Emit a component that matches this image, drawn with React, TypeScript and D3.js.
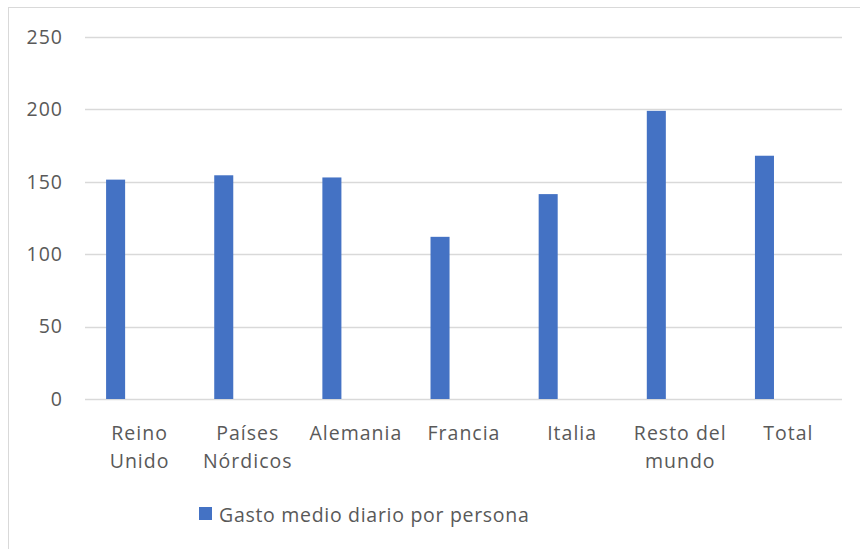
import React from "react";
import * as d3 from "d3";

const categories: string[][] = [
  ["Reino", "Unido"],
  ["Países", "Nórdicos"],
  ["Alemania"],
  ["Francia"],
  ["Italia"],
  ["Resto del", "mundo"],
  ["Total"],
];
const values: number[] = [151.5, 154.5, 153, 112, 141.5, 199, 168];
const yTicks: number[] = [0, 50, 100, 150, 200, 250];
const seriesName = "Gasto medio diario por persona";

const W = 860;
const H = 549;
const FONT = "'Open Sans', 'Liberation Sans', sans-serif";
const TEXT = "#595959";
const BAR = "#4472C4";
const GRID = "#d9d9d9";
const LS = 1;

export default function App() {
  const keys = categories.map((c) => c.join(" "));
  const x = d3.scaleBand<string>().domain(keys).range([85, 842]).padding(0);
  const y = d3.scaleLinear().domain([0, 250]).range([399, 37]);
  const bw = x.bandwidth();

  return (
    <svg
      width={W}
      height={H}
      style={{ position: "absolute", left: 0, top: 0 }}
      fontFamily={FONT}
    >
      <rect x={0} y={0} width={W} height={H} fill="#fff" />
      <rect x={8.5} y={7.5} width={W + 20} height={H + 20} fill="none" stroke={GRID} strokeWidth={1} />
      {yTicks.map((t) => (
        <g key={t}>
          <line x1={85} x2={842} y1={Math.round(y(t)) + 0.5} y2={Math.round(y(t)) + 0.5} stroke={GRID} strokeWidth={1.4} />
          <text x={63} y={y(t)} dy="0.35em" textAnchor="end" fontSize={19.5} fill={TEXT} letterSpacing={LS}>
            {t}
          </text>
        </g>
      ))}
      {values.map((v, i) => {
        const k = keys[i];
        const x0 = (x(k) as number) + bw * 0.195;
        return (
          <rect key={k} x={x0} y={y(v)} width={bw * 0.176} height={y(0) - y(v)} fill={BAR} />
        );
      })}
      {categories.map((lines, i) => {
        const cx = (x(keys[i]) as number) + bw / 2 + LS / 2;
        return (
          <text key={keys[i]} textAnchor="middle" fontSize={19.5} fill={TEXT} letterSpacing={LS}>
            {lines.map((l, j) => (
              <tspan key={j} x={cx} y={440 + j * 28}>
                {l}
              </tspan>
            ))}
          </text>
        );
      })}
      <rect x={199} y={507} width={13} height={13} fill={BAR} />
      <text x={219} y={522} fontSize={19.5} fill={TEXT} letterSpacing={0.7}>
        {seriesName}
      </text>
    </svg>
  );
}
